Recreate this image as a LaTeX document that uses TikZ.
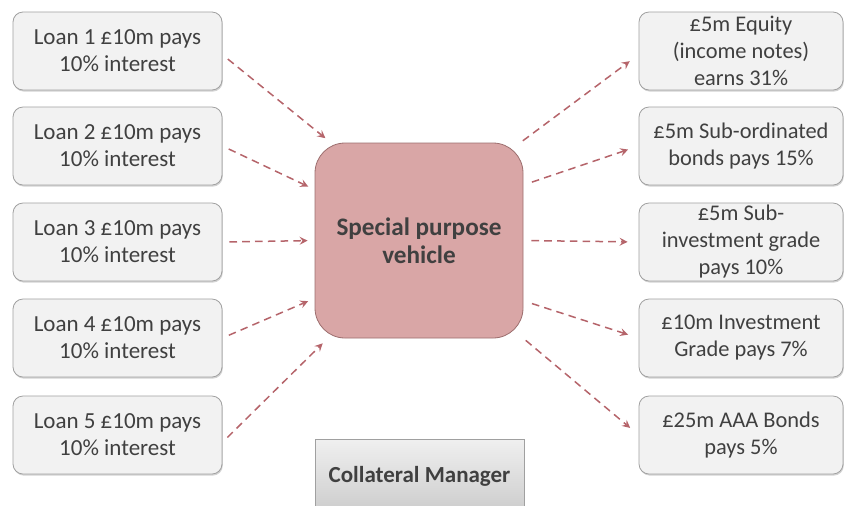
\documentclass[tikz,border=0pt]{standalone}
\usepackage{fontspec}
\setmainfont{Carlito}
\usetikzlibrary{arrows,shadows,positioning,calc}
\definecolor{boxgray}{RGB}{242,242,242}
\definecolor{edgegray}{RGB}{160,160,160}
\definecolor{textgray}{RGB}{64,64,64}
\definecolor{spvpink}{RGB}{217,166,166}
\definecolor{spvedge}{RGB}{156,110,110}
\definecolor{flowred}{RGB}{181,100,106}

\tikzset{
	tranche/.style={draw=edgegray,fill=boxgray,rounded corners=5pt,minimum width=104.5pt,minimum height=39pt,inner sep=0pt,align=center,text=textgray,font=\fontsize{11.5}{13.5}\selectfont,drop shadow={shadow xshift=0.4pt,shadow yshift=-0.8pt,opacity=0.35}},
	flow/.style={draw=flowred,line width=0.75pt,dash pattern=on 3.8pt off 2.6pt,->,>=stealth,shorten <=3.5pt,shorten >=3.5pt}
}

\begin{document}
\begin{tikzpicture}[x=0.5pt,y=-0.5pt]
	\useasboundingbox (0,0) rectangle (844,505);
	% loans on the left
	\node (l1) at (117.5,51) [tranche] {Loan 1 £10m pays\\10\% interest};
	\node (l2) at (117.5,146) [tranche] {Loan 2 £10m pays\\10\% interest};
	\node (l3) at (117.5,242) [tranche] {Loan 3 £10m pays\\10\% interest};
	\node (l4) at (117.5,338) [tranche] {Loan 4 £10m pays\\10\% interest};
	\node (l5) at (117.5,435) [tranche] {Loan 5 £10m pays\\10\% interest};
	% the vehicle
	\node (spv) at (419,240.5) [draw=spvedge,fill=spvpink,rounded corners=15pt,minimum width=104pt,minimum height=97.5pt,inner sep=0pt,align=center,text=textgray,font=\fontsize{12.6}{14}\selectfont\bfseries] {Special purpose\\vehicle};
	\node (cm) at (419.5,476) [draw=edgegray,top color=gray!12,bottom color=gray!40,minimum width=104.5pt,minimum height=37pt,inner sep=0pt,text=textgray,font=\fontsize{11.5}{13.5}\selectfont\bfseries] {Collateral Manager};
	% notes on the right
	\node (r1) at (741,51) [tranche,minimum width=102pt,font=\fontsize{11.2}{13.5}\selectfont] {£5m Equity\\(income notes)\\earns 31\%};
	\node (r2) at (741,146) [tranche,minimum width=102pt,font=\fontsize{11.2}{13.5}\selectfont] {£5m Sub-ordinated\\bonds pays 15\%};
	\node (r3) at (741,242) [tranche,minimum width=102pt,font=\fontsize{11.2}{13.5}\selectfont] {£5m Sub-\\investment grade\\pays 10\%};
	\node (r4) at (741,338) [tranche,minimum width=102pt,font=\fontsize{11.2}{13.5}\selectfont] {£10m Investment\\Grade pays 7\%};
	\node (r5) at (741,435) [tranche,minimum width=102pt,font=\fontsize{11.2}{13.5}\selectfont] {£25m AAA Bonds\\pays 5\%};
	% flows in
	\draw[flow] (l1.-2)--(spv.132);
	\draw[flow] (l2.east)--(spv.154);
	\draw[flow] (l3.east)--(spv.west);
	\draw[flow] (l4.east)--(spv.209);
	\draw[flow] (l5.-4)--(spv.227);
	% flows out
	\draw[flow,shorten <=1.5pt,shorten >=5.5pt] (spv.44)--(r1.182);
	\draw[flow,shorten <=4.5pt,shorten >=5.5pt] (spv.28)--(r2.west);
	\draw[flow,shorten <=4pt,shorten >=5.5pt] (spv.east)--(r3.west);
	\draw[flow,shorten <=4.5pt,shorten >=5.5pt] (spv.-30)--(r4.west);
	\draw[flow,shorten <=1.5pt,shorten >=5.5pt] (spv.south east)--(r5.west);
\end{tikzpicture}
\end{document}
